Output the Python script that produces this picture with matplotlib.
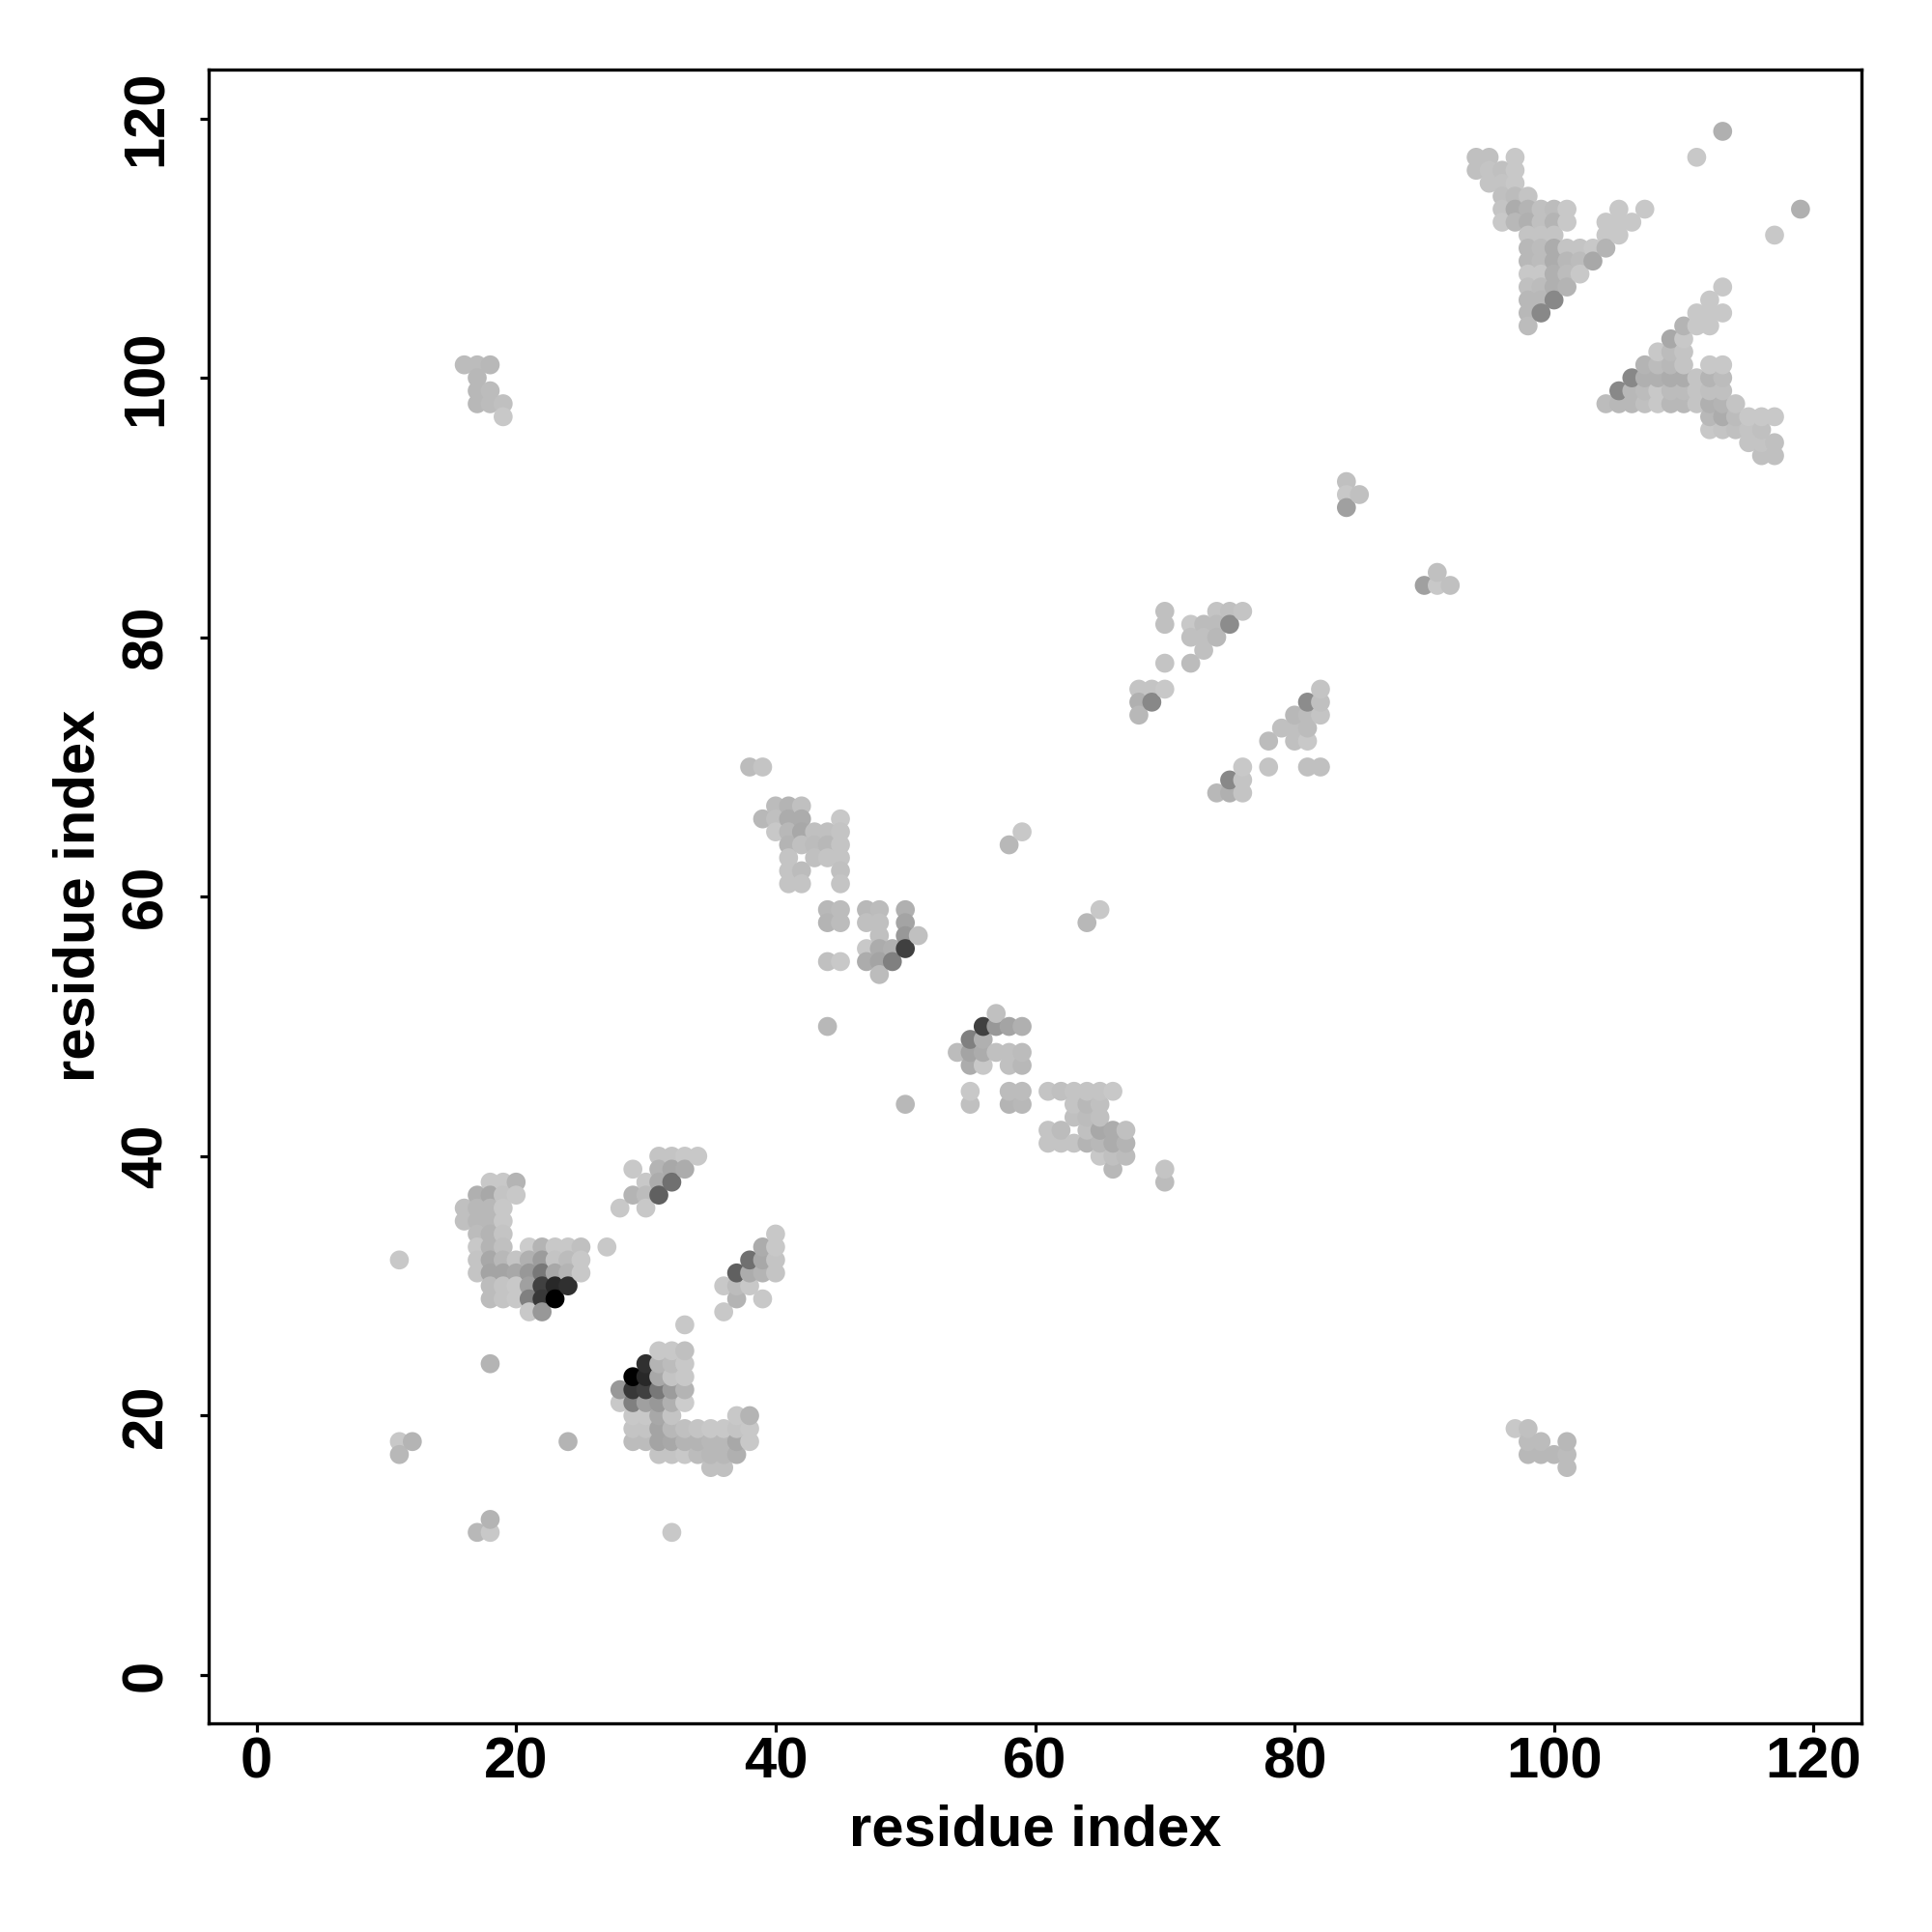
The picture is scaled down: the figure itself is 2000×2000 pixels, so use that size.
import matplotlib
matplotlib.use("Agg")
import matplotlib.pyplot as plt

plt.rcParams["font.family"] = ["Liberation Sans", "DejaVu Sans"]
plt.rcParams["font.weight"] = "bold"

# contacts above the diagonal, by row: y -> x values and grey level (0-255)
# the map is symmetric so the other half is mirrored when drawing
row_y = [17, 18, 24, 28, 29, 30, 31, 32, 33, 34, 35, 36, 37, 38, 39, 40,
         50, 54, 55, 56, 57, 58, 59, 61, 62, 63, 64, 65, 66, 67, 70,
         74, 75, 76, 78, 79, 80, 81, 82, 90, 91, 92,
         97, 98, 99, 100, 101,
         104, 105, 106, 107, 108, 109, 110, 111, 112, 113, 114, 115, 116, 117, 119]
row_x = [
    [11], [11, 12], [18], [21, 22], [18, 19, 20, 21, 22, 23],
    [18, 19, 20, 21, 22, 23, 24], [17, 18, 19, 20, 21, 22, 23, 24, 25],
    [11, 17, 18, 19, 20, 21, 22, 23, 24, 25],
    [17, 18, 19, 21, 22, 23, 24, 25, 27], [17, 18, 19], [16, 17, 18, 19],
    [16, 17, 18, 19, 28, 30], [17, 18, 19, 20, 29, 30, 31],
    [18, 19, 20, 30, 31, 32], [29, 31, 32, 33], [31, 32, 33, 34],
    [44], [48], [44, 45, 47, 48, 49], [47, 48, 49, 50], [48, 50, 51],
    [44, 45, 47, 48, 50], [44, 45, 47, 48, 50],
    [41, 42, 45], [41, 42, 45], [41, 43, 44, 45], [41, 42, 43, 44, 45, 58],
    [40, 41, 42, 43, 44, 45, 59], [39, 40, 41, 42, 45], [40, 41, 42], [38, 39],
    [68], [68, 69], [68, 69, 70], [70, 72], [73], [72, 73, 74],
    [70, 72, 73, 74, 75], [70, 74, 75, 76],
    [84], [84, 85], [84],
    [19], [17, 18, 19], [17, 18], [17], [16, 17, 18],
    [98], [98, 99], [98, 99, 100], [98, 99, 100, 101], [98, 99, 100, 101, 102],
    [98, 99, 100, 101, 102, 103], [98, 99, 100, 101, 102, 103, 104],
    [98, 99, 100, 104, 105], [96, 97, 98, 99, 100, 101, 104, 105, 106],
    [96, 97, 98, 99, 100, 101, 105, 107], [96, 97, 98], [95, 96, 97],
    [94, 95, 96, 97], [94, 95, 97, 111], [113],
]
row_shade = [
    [0xb8], [0xc8, 0xb4], [0xb4], [0xc8, 0x98], [0xbc, 0xc4, 0xc8, 0x80, 0x38, 0x00],
    [0xbc, 0xc4, 0xc8, 0xa0, 0x40, 0x28, 0x30], [0xc4, 0xa4, 0xa4, 0xa8, 0x98, 0x78, 0xa8, 0xb4, 0xc8],
    [0xc8, 0xc4, 0xa8, 0xb8, 0xc4, 0xb0, 0x9c, 0xc4, 0xbc, 0xc8],
    [0xc8, 0xb4, 0xc0, 0xcc, 0xb4, 0xc8, 0xc8, 0xc0, 0xc8], [0xbc, 0xb4, 0xc4], [0xc0, 0xb8, 0xb8, 0xc8],
    [0xc0, 0xb8, 0xb8, 0xc8, 0xc8, 0xc8], [0xb0, 0xa8, 0xc4, 0xc8, 0xb4, 0xbc, 0x60],
    [0xc8, 0xc8, 0xb4, 0xc8, 0xac, 0x70], [0xc8, 0xb4, 0xa8, 0xac], [0xc4, 0xc4, 0xc8, 0xc8],
    [0xb8], [0xbc], [0xc0, 0xc8, 0xac, 0xa4, 0x80], [0xc8, 0xac, 0xb0, 0x40], [0xc0, 0x98, 0xc0],
    [0xb4, 0xbc, 0xc0, 0xc0, 0xa4], [0xb8, 0xbc, 0xb8, 0xbc, 0xb0],
    [0xc4, 0xc4, 0xc4], [0xc4, 0xbc, 0xc0], [0xc4, 0xc0, 0xc4, 0xc4], [0xb4, 0xc0, 0xbc, 0xb8, 0xc4, 0xb8],
    [0xc8, 0xb8, 0xa8, 0xc0, 0xc0, 0xc4, 0xc8], [0xb8, 0xc0, 0xac, 0xac, 0xc8], [0xbc, 0xb4, 0xc0], [0xbc, 0xc4],
    [0xb8], [0xb0, 0x88], [0xc4, 0xc4, 0xc8], [0xc4, 0xbc], [0xc0], [0xc0, 0xc0, 0xb8],
    [0xc0, 0xc8, 0xbc, 0xbc, 0x8c], [0xc0, 0xc4, 0xc0, 0xc4],
    [0xa0], [0xc8, 0xc0], [0xc0],
    [0xc8], [0xb8, 0xbc, 0xc0], [0xb8, 0xbc], [0xb8], [0xbc, 0xbc, 0xb8],
    [0xbc], [0xb8, 0x88], [0xb8, 0xb8, 0x88], [0xc0, 0xbc, 0xb0, 0xb4], [0xc8, 0xc8, 0xb0, 0xbc, 0xc8],
    [0xb8, 0xbc, 0xac, 0xb8, 0xbc, 0xa8], [0xb8, 0xbc, 0xac, 0xc4, 0xc4, 0xc8, 0xb4],
    [0xc4, 0xc4, 0xc4, 0xc8, 0xc8], [0xc8, 0xb8, 0xb0, 0xc0, 0xb4, 0xc8, 0xc8, 0xc8, 0xc8],
    [0xc4, 0xac, 0xb4, 0xc0, 0xbc, 0xc8, 0xc8, 0xc8], [0xc0, 0xbc, 0xc4], [0xc4, 0xc4, 0xc8],
    [0xc0, 0xc4, 0xc0, 0xc8], [0xc0, 0xc0, 0xc8, 0xc8], [0xb0],
]
tick_values = [0, 20, 40, 60, 80, 100, 120]

points = []
for y, xs, shades in zip(row_y, row_x, row_shade):
    for x, s in zip(xs, shades):
        points.append((x, y, s))
        points.append((y, x, s))
# later columns sit on top, nearest the diagonal last within a column
points.sort(key=lambda p: (p[0], -abs(p[0] - p[1])))

fig = plt.figure(figsize=(10, 10), dpi=200)
ax = fig.add_axes([216 / 2000, 216 / 2000, 1711 / 2000, 1712.5 / 2000])

ax.scatter(
    [p[0] for p in points],
    [p[1] for p in points],
    c=[str(p[2] / 255) for p in points],
    s=50,
    linewidths=0,
)

ax.set_xlim(-3.7, 123.7)
ax.set_ylim(-3.72, 123.8)
ax.set_xticks(tick_values)
ax.set_yticks(tick_values)
ax.tick_params(axis="both", length=3.2, width=1.15, labelsize=21.5)
ax.tick_params(axis="x", pad=1.5)
ax.tick_params(axis="y", pad=10)
for label in ax.get_yticklabels():
    label.set_rotation(90)
    label.set_va("center")
for spine in ax.spines.values():
    spine.set_linewidth(1.2)

ax.set_xlabel("residue index", fontsize=21.5, fontweight="bold")
ax.set_ylabel("residue index", fontsize=21.5, fontweight="bold")
ax.xaxis.set_label_coords(0.5, -0.0485)
ax.yaxis.set_label_coords(-0.0625, 0.5)

fig.savefig("out.png", dpi=200)
